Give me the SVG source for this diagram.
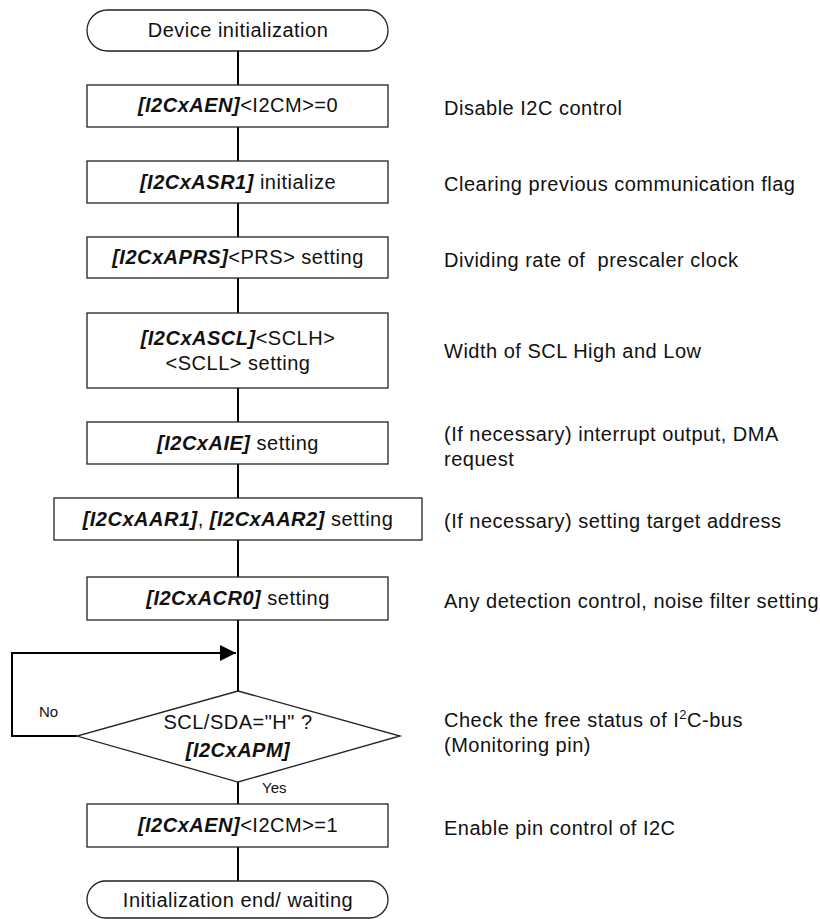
<svg xmlns="http://www.w3.org/2000/svg" width="820" height="919" viewBox="0 0 820 919">
<defs>
<style>
text{font-family:"Liberation Sans",Arial,sans-serif;font-size:20px;letter-spacing:0.5px;fill:#111;}
.c{text-anchor:middle;}
.b{font-weight:bold;font-style:italic;}
.s{font-size:15px;letter-spacing:0;}
.box{fill:#fff;stroke:#222;stroke-width:1.3;}
.line{fill:none;stroke:#000;stroke-width:2;}
</style>
<marker id="arr" markerUnits="userSpaceOnUse" markerWidth="18" markerHeight="18" refX="16" refY="8" orient="auto">
<path d="M0,0 L16,8 L0,16 Z" fill="#000"/>
</marker>
</defs>
<rect width="820" height="919" fill="#fff"/>
<g id="connectors">
<path class="line" d="M238,51V85 M238,127V161 M238,203V237 M238,278V313 M238,388V422 M238,464V498 M238,540V577 M238,620V691 M238,782V804 M238,847V881"/>
<path class="line" d="M77,736H12V653H236" marker-end="url(#arr)"/>
</g>
<g id="start">
<rect class="box" x="87" y="10" width="301" height="41" rx="20.5"/>
<text class="c" x="238" y="37">Device initialization</text>
</g>
<g id="n1">
<rect class="box" x="87" y="85" width="301" height="42"/>
<text class="c" x="238" y="112"><tspan class="b">[I2CxAEN]</tspan>&lt;I2CM&gt;=0</text>
</g>
<g id="n2">
<rect class="box" x="87" y="161" width="301" height="42"/>
<text class="c" x="238" y="189"><tspan class="b">[I2CxASR1]</tspan> initialize</text>
</g>
<g id="n3">
<rect class="box" x="87" y="237" width="301" height="41"/>
<text class="c" x="238" y="264"><tspan class="b">[I2CxAPRS]</tspan>&lt;PRS&gt; setting</text>
</g>
<g id="n4">
<rect class="box" x="87" y="313" width="301" height="75"/>
<text class="c" x="238" y="345"><tspan class="b">[I2CxASCL]</tspan>&lt;SCLH&gt;</text>
<text class="c" x="238" y="370">&lt;SCLL&gt; setting</text>
</g>
<g id="n5">
<rect class="box" x="87" y="422" width="301" height="42"/>
<text class="c" x="238" y="450"><tspan class="b">[I2CxAIE]</tspan> setting</text>
</g>
<g id="n6">
<rect class="box" x="54" y="498" width="368" height="42"/>
<text class="c" x="238" y="526"><tspan class="b">[I2CxAAR1]</tspan>, <tspan class="b">[I2CxAAR2]</tspan> setting</text>
</g>
<g id="n7">
<rect class="box" x="87" y="577" width="301" height="43"/>
<text class="c" x="238" y="605"><tspan class="b">[I2CxACR0]</tspan> setting</text>
</g>
<g id="decision">
<polygon class="box" points="238,691 400,736 238,782 77,736"/>
<text class="c" x="238" y="729">SCL/SDA="H" ?</text>
<text class="c b" x="238" y="757">[I2CxAPM]</text>
<text class="s" x="39" y="717">No</text>
<text class="s" x="262" y="793">Yes</text>
</g>
<g id="n8">
<rect class="box" x="87" y="804" width="301" height="43"/>
<text class="c" x="238" y="832"><tspan class="b">[I2CxAEN]</tspan>&lt;I2CM&gt;=1</text>
</g>
<g id="end">
<rect class="box" x="87" y="881" width="301" height="37" rx="18.5"/>
<text class="c" x="238" y="907">Initialization end/ waiting</text>
</g>
<g id="notes">
<text x="444" y="115">Disable I2C control</text>
<text x="444" y="191">Clearing previous communication flag</text>
<text x="444" y="267">Dividing rate of &#160;prescaler clock</text>
<text x="444" y="358">Width of SCL High and Low</text>
<text x="444" y="441">(If necessary) interrupt output, DMA</text>
<text x="444" y="466">request</text>
<text x="444" y="528">(If necessary) setting target address</text>
<text x="444" y="608">Any detection control, noise filter setting</text>
<text x="444" y="727">Check the free status of I<tspan dy="-8" font-size="13">2</tspan><tspan dy="8">C-bus</tspan></text>
<text x="444" y="752">(Monitoring pin)</text>
<text x="444" y="835">Enable pin control of I2C</text>
</g>
</svg>
